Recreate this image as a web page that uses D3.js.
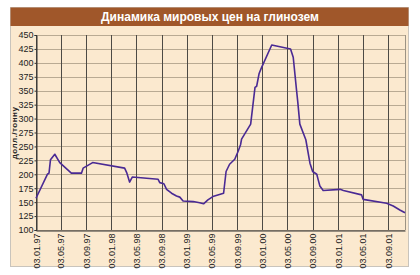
<!DOCTYPE html>
<html>
<head>
<meta charset="utf-8">
<script src="https://cdn.jsdelivr.net/npm/d3@7"></script>
<style>
  body { margin: 0; background: #fff; }
  svg { display: block; }
  .tick text { font-family: "Liberation Sans Narrow", "Arial Narrow", "Liberation Sans", sans-serif; font-size: 9px; fill: #222; }
</style>
</head>
<body>
<div id="chart"></div>
<script>
// Заголовок и подписи
const title = 'Динамика мировых цен на глинозем';
const yLabel = 'долл./тонну';

// Даты точек ряда
const dates = [
  '1997-01-03', '1997-02-27', '1997-03-07', '1997-03-14', '1997-04-04', '1997-04-28',
  '1997-06-23', '1997-08-11', '1997-08-19', '1997-10-04', '1998-03-08', '1998-03-19',
  '1998-04-01', '1998-04-14', '1998-08-17', '1998-08-25', '1998-09-14', '1998-09-27',
  '1998-10-21', '1998-11-14', '1998-11-30', '1998-12-16', '1999-02-03', '1999-03-06',
  '1999-03-25', '1999-04-15', '1999-05-09', '1999-06-30', '1999-07-12', '1999-07-29',
  '1999-08-23', '1999-09-08', '1999-09-20', '1999-09-25', '1999-11-08', '1999-11-29',
  '1999-12-07', '1999-12-19', '1999-12-29', '2000-02-18', '2000-05-19', '2000-06-01',
  '2000-06-17', '2000-06-23', '2000-07-03', '2000-08-01', '2000-08-21', '2000-09-03',
  '2000-09-23', '2000-09-30', '2000-10-08', '2000-10-24', '2001-01-14', '2001-01-30',
  '2001-04-28', '2001-05-05', '2001-08-27', '2001-09-28', '2001-10-30', '2001-11-24'
];

// Цена, долл./тонну
const prices = [
  157, 200, 202, 226, 236, 221,
  202, 202, 211, 221, 211, 202,
  186, 195, 191, 185, 183, 173,
  166, 161, 159, 152, 151, 149,
  147, 154, 160, 166, 205, 218,
  227, 241, 253, 263, 290, 356,
  358, 381, 390, 432, 425, 410,
  351, 330, 290, 262, 220, 205,
  200, 190, 179, 171, 173, 171,
  163, 155, 148, 143, 136, 131
];

// Подписи оси X и значения оси Y
const xTickLabels = [
  '03.01.97', '03.05.97', '03.09.97', '03.01.98', '03.05.98', '03.09.98', '03.01.99',
  '03.05.99', '03.09.99', '03.01.00', '03.05.00', '03.09.00', '03.01.01', '03.05.01', '03.09.01'
];
const yTicks = [100, 125, 150, 175, 200, 225, 250, 275, 300, 325, 350, 375, 400, 425, 450];
const xDomain = ['1997-01-03', '2001-11-24'];

const W = 420, H = 275;
const plot = { left: 36, right: 405, top: 35, bottom: 230 };

const parseIso = d3.timeParse('%Y-%m-%d');
const parseTick = d3.timeParse('%d.%m.%y');
const data = dates.map((d, i) => ({ date: parseIso(d), value: prices[i] }));

const svg = d3.select('#chart').append('svg')
  .attr('width', W)
  .attr('height', H);

// Панель
svg.append('rect')
  .attr('x', 10.5).attr('y', 7.5)
  .attr('width', 398).attr('height', 259)
  .attr('fill', '#fbe9cf')
  .attr('stroke', '#c9c4bc');

svg.append('rect')
  .attr('x', 10.5).attr('y', 7.5)
  .attr('width', 398).attr('height', 18.5)
  .attr('fill', '#a0572a');

svg.append('text')
  .attr('x', 210).attr('y', 21)
  .attr('text-anchor', 'middle')
  .attr('font-family', '"Liberation Sans", Arial, sans-serif')
  .attr('font-weight', 'bold')
  .attr('font-size', 12)
  .attr('fill', '#fff')
  .text(title);

// Шкалы
const x = d3.scaleTime()
  .domain(xDomain.map(parseIso))
  .range([plot.left, plot.right]);

const y = d3.scaleLinear()
  .domain([100, 450])
  .range([plot.bottom, plot.top]);

// Горизонтальная сетка
svg.append('g')
  .selectAll('line')
  .data(yTicks)
  .join('line')
  .attr('x1', plot.left).attr('x2', plot.right)
  .attr('y1', d => Math.round(y(d)) + 0.5)
  .attr('y2', d => Math.round(y(d)) + 0.5)
  .attr('stroke', '#b9aa93')
  .attr('stroke-width', 1);

// Вертикальная сетка
const xTickDates = xTickLabels.map(parseTick);
svg.append('g')
  .selectAll('line')
  .data(xTickDates)
  .join('line')
  .attr('x1', d => Math.round(x(d)) + 0.5)
  .attr('x2', d => Math.round(x(d)) + 0.5)
  .attr('y1', plot.top).attr('y2', plot.bottom)
  .attr('stroke', '#4d4a45')
  .attr('stroke-width', 1);

// Правая граница
svg.append('line')
  .attr('x1', plot.right + 0.5).attr('x2', plot.right + 0.5)
  .attr('y1', plot.top).attr('y2', plot.bottom)
  .attr('stroke', '#9c9384');

// Ось Y
const yAxis = svg.append('g')
  .attr('transform', `translate(${plot.left + 0.5},0)`)
  .call(d3.axisLeft(y).tickValues(yTicks).tickSize(2).tickPadding(1));
yAxis.select('.domain').attr('stroke', '#333');
yAxis.selectAll('.tick line').attr('stroke', '#333');

// Ось X
const xAxis = svg.append('g')
  .attr('transform', `translate(0,${plot.bottom + 0.5})`)
  .call(d3.axisBottom(x).tickValues(xTickDates).tickFormat((d, i) => xTickLabels[i]).tickSize(0));
xAxis.select('.domain').attr('stroke', '#333');
xAxis.selectAll('.tick text')
  .attr('transform', 'rotate(-90)')
  .attr('text-anchor', 'end')
  .attr('x', -3)
  .attr('y', 0)
  .attr('dy', '0.35em');

// Подпись оси Y
svg.append('text')
  .attr('transform', 'translate(17,133) rotate(-90)')
  .attr('text-anchor', 'middle')
  .attr('font-family', '"Liberation Sans", Arial, sans-serif')
  .attr('font-weight', 'bold')
  .attr('font-size', 8)
  .attr('letter-spacing', 0.5)
  .attr('fill', '#222')
  .text(yLabel);

// Линия цены
const line = d3.line()
  .x(d => x(d.date))
  .y(d => y(d.value));

svg.append('path')
  .datum(data)
  .attr('fill', 'none')
  .attr('stroke', '#4a2a94')
  .attr('stroke-width', 1.6)
  .attr('stroke-linejoin', 'round')
  .attr('d', line);
</script>
</body>
</html>
